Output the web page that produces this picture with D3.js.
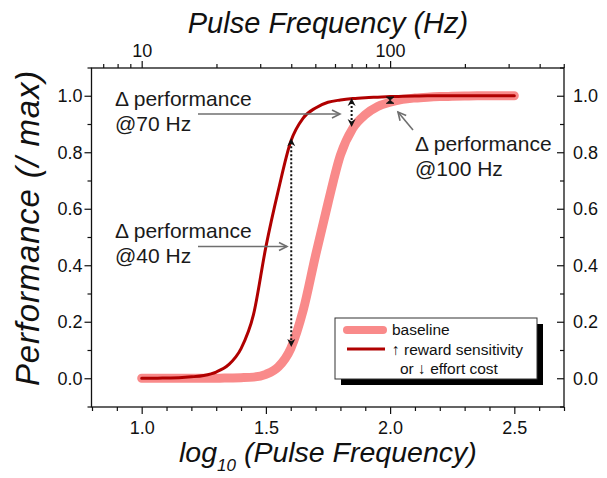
<!DOCTYPE html>
<html><head><meta charset="utf-8">
<script src="https://cdn.jsdelivr.net/npm/d3@7/dist/d3.min.js"></script>
<style>body{margin:0;background:#fff;} text{font-family:"Liberation Sans",Arial,sans-serif;}</style>
</head><body><svg id="c" width="607" height="478"></svg>
<script>
// ---- data ----
const logFreq   = [1.00,1.05,1.10,1.15,1.20,1.25,1.30,1.35,1.40,1.45,1.50,1.55,1.60,1.65,1.70,1.75,1.80,1.85,1.90,1.95,2.00,2.05,2.10,2.15,2.20,2.25,2.30,2.35,2.40,2.45,2.50];
const baseline  = [0.000,0.000,0.000,0.000,0.000,0.000,0.000,0.001,0.002,0.004,0.014,0.040,0.105,0.240,0.435,0.620,0.790,0.885,0.933,0.962,0.977,0.987,0.992,0.995,0.997,0.998,0.999,1.000,1.000,1.000,1.000];
const rewardSens= [0.000,0.000,0.001,0.002,0.005,0.010,0.022,0.048,0.105,0.225,0.465,0.665,0.838,0.921,0.957,0.977,0.985,0.990,0.993,0.995,0.997,0.998,0.999,1.000,1.000,1.000,1.000,1.000,1.000,1.000,1.000];
const yTicks    = [0.0,0.2,0.4,0.6,0.8,1.0];
const yMinor    = [-0.1,0.1,0.3,0.5,0.7,0.9,1.1];
const xTicks    = [1.0,1.5,2.0,2.5];
const xMinor    = [0.8,0.9,1.1,1.2,1.3,1.4,1.6,1.7,1.8,1.9,2.1,2.2,2.3,2.4,2.6,2.7];
const freqTicks = [10,100];
const freqMinor = [7,8,9,20,30,40,50,60,70,80,90,200,300,400,500];
const arrowFreq   = [40,70,100];
const arrowTop    = [0.850,0.992,0.996];
const arrowBottom = [0.111,0.889,0.973];
const annotations = [["Δ performance","@70 Hz"],["Δ performance","@40 Hz"],["Δ performance","@100 Hz"]];
const legendLabels = ["baseline","↑ reward sensitivity","or ↓ effort cost"];

const PINK = "#F98A8A", RED = "#B00000", GRAY = "#6f6f6f";
const svg = d3.select("#c");
const L = 91.5, R = 564, T = 68, B = 407;
const x = d3.scaleLinear().domain([0.8, 2.7]).range([92, 564]);
const y = d3.scaleLinear().domain([-0.1, 1.1]).range([406.5, 67.5]);

function styleAxis(g, size){
  g.select(".domain").remove();
  g.attr("font-family", null).attr("font-size", null);
  g.selectAll("line").attr("stroke", "#111").attr("stroke-width", 1.2);
  g.selectAll("text").attr("font-size", size).attr("fill", "#111")
    .style("font-family", '"Liberation Sans",Arial,sans-serif');
}
const fmt = d3.format(".1f");
// bottom
svg.append("g").attr("transform", `translate(0,${B})`)
  .call(d3.axisBottom(x).tickValues(xMinor).tickSize(4).tickFormat(""))
  .call(g => styleAxis(g, 18));
svg.append("g").attr("transform", `translate(0,${B})`)
  .call(d3.axisBottom(x).tickValues(xTicks).tickSize(7).tickPadding(7).tickFormat(fmt))
  .call(g => styleAxis(g, 18));
// top (log frequency)
svg.append("g").attr("transform", `translate(0,${T})`)
  .call(d3.axisTop(x).tickValues(freqMinor.map(Math.log10)).tickSize(4).tickFormat(""))
  .call(g => styleAxis(g, 18));
svg.append("g").attr("transform", `translate(0,${T})`)
  .call(d3.axisTop(x).tickValues(freqTicks.map(Math.log10)).tickSize(7).tickPadding(4)
    .tickFormat((d,i) => String(freqTicks[i])))
  .call(g => styleAxis(g, 18));
// left
svg.append("g").attr("transform", `translate(${L},0)`)
  .call(d3.axisLeft(y).tickValues(yMinor).tickSize(4).tickFormat(""))
  .call(g => styleAxis(g, 18));
svg.append("g").attr("transform", `translate(${L},0)`)
  .call(d3.axisLeft(y).tickValues(yTicks).tickSize(7).tickPadding(2).tickFormat(fmt))
  .call(g => styleAxis(g, 18));
// right (inward ticks)
svg.append("g").attr("transform", `translate(${R},0)`)
  .call(d3.axisRight(y).tickValues(yMinor).tickSize(-4).tickFormat(""))
  .call(g => styleAxis(g, 18));
svg.append("g").attr("transform", `translate(${R},0)`)
  .call(d3.axisRight(y).tickValues(yTicks).tickSize(-7).tickPadding(9).tickFormat(fmt))
  .call(g => styleAxis(g, 18));
// frame
svg.append("rect").attr("x", L).attr("y", T).attr("width", R - L).attr("height", B - T)
  .attr("fill", "none").attr("stroke", "#111").attr("stroke-width", 1.3);

// titles
svg.append("text").attr("x", 328).attr("y", 33).attr("text-anchor", "middle")
  .attr("font-size", 29).attr("font-style", "italic").attr("fill", "#111").text("Pulse Frequency (Hz)");
const bt = svg.append("text").attr("x", 179).attr("y", 462)
  .attr("font-size", 28.5).attr("font-style", "italic").attr("fill", "#111");
bt.append("tspan").text("log");
bt.append("tspan").attr("font-size", 17).attr("dy", 9).text("10");
bt.append("tspan").attr("dy", -9).text(" (Pulse Frequency)");
svg.append("text").attr("transform", "translate(39,228) rotate(-90)").attr("text-anchor", "middle")
  .attr("font-size", 33).attr("letter-spacing", 0.8).attr("font-style", "italic").attr("fill", "#111").text("Performance (/ max)");

// curves
const line = d3.line().x((d,i) => x(logFreq[i])).y(d => y(d)).curve(d3.curveMonotoneX);
svg.append("path").attr("d", line(baseline)).attr("fill", "none").attr("stroke", PINK)
  .attr("stroke-width", 9).attr("stroke-linecap", "round").attr("stroke-linejoin", "round");
svg.append("path").attr("d", line(rewardSens)).attr("fill", "none").attr("stroke", RED)
  .attr("stroke-width", 3).attr("stroke-linecap", "round").attr("stroke-linejoin", "round");

// dotted double arrows
function head(xt, yt, dir){ // dir -1 up, +1 down; tip at (xt,yt)
  const l = 8, w = 4;
  return `M${xt},${yt} L${xt - w},${yt - dir*l} L${xt},${yt - dir*l*0.7} L${xt + w},${yt - dir*l} Z`;
}
arrowFreq.forEach((f, i) => {
  const xa = x(Math.log10(f)), y1 = y(arrowTop[i]), y2 = y(arrowBottom[i]);
  if (y2 - y1 > 14) {
    svg.append("line").attr("x1", xa).attr("x2", xa).attr("y1", y1 + 4).attr("y2", y2 - 4)
      .attr("stroke", "#111").attr("stroke-width", 2).attr("stroke-dasharray", "2,2");
    svg.append("path").attr("d", head(xa, y1, -1)).attr("fill", "#111");
    svg.append("path").attr("d", head(xa, y2, 1)).attr("fill", "#111");
  } else {
    const ym = (y1 + y2) / 2;
    svg.append("path").attr("d", `M${xa-3.8},${y1} L${xa+3.8},${y1} L${xa},${ym} Z M${xa-3.8},${y2} L${xa+3.8},${y2} L${xa},${ym} Z`)
      .attr("fill", "#111").attr("stroke", "#111").attr("stroke-width", 0.8);
  }
});

// gray annotation arrows
function grayArrow(x1, y1, x2, y2){
  svg.append("line").attr("x1", x1).attr("y1", y1).attr("x2", x2).attr("y2", y2)
    .attr("stroke", GRAY).attr("stroke-width", 1.6);
  const a = Math.atan2(y2 - y1, x2 - x1), l = 8, w = 4;
  const bx = x2 - l*Math.cos(a), by = y2 - l*Math.sin(a);
  const px = -Math.sin(a)*w, py = Math.cos(a)*w;
  svg.append("path").attr("d", `M${bx+px},${by+py} L${x2},${y2} L${bx-px},${by-py}`)
    .attr("fill", "none").attr("stroke", GRAY).attr("stroke-width", 1.6);
}
grayArrow(198, 114, 340, 114);
grayArrow(198, 246.5, 287, 246.5);
grayArrow(413, 130, 398, 112);

const annoPos = [[115, 106], [115, 238], [415, 151]];
annotations.forEach((a, i) => {
  a.forEach((t, j) => {
    svg.append("text").attr("x", annoPos[i][0]).attr("y", annoPos[i][1] + j*24.5)
      .attr("font-size", 21).attr("fill", "#1a1a1a").text(t);
  });
});

// legend
const lg = svg.append("g");
lg.append("rect").attr("x", 341).attr("y", 324).attr("width", 202).attr("height", 61).attr("fill", "#000");
lg.append("rect").attr("x", 335).attr("y", 318).attr("width", 202).attr("height", 61)
  .attr("fill", "#fff").attr("stroke", "#333").attr("stroke-width", 1);
lg.append("line").attr("x1", 347).attr("x2", 383).attr("y1", 330).attr("y2", 330)
  .attr("stroke", PINK).attr("stroke-width", 8).attr("stroke-linecap", "round");
lg.append("line").attr("x1", 347).attr("x2", 385).attr("y1", 349).attr("y2", 349)
  .attr("stroke", RED).attr("stroke-width", 3);
const lpos = [[392, 335], [392, 355], [400, 374]];
legendLabels.forEach((t, i) => {
  lg.append("text").attr("x", lpos[i][0]).attr("y", lpos[i][1]).attr("font-size", 15.5)
    .attr("fill", "#111").text(t);
});
</script></body></html>
